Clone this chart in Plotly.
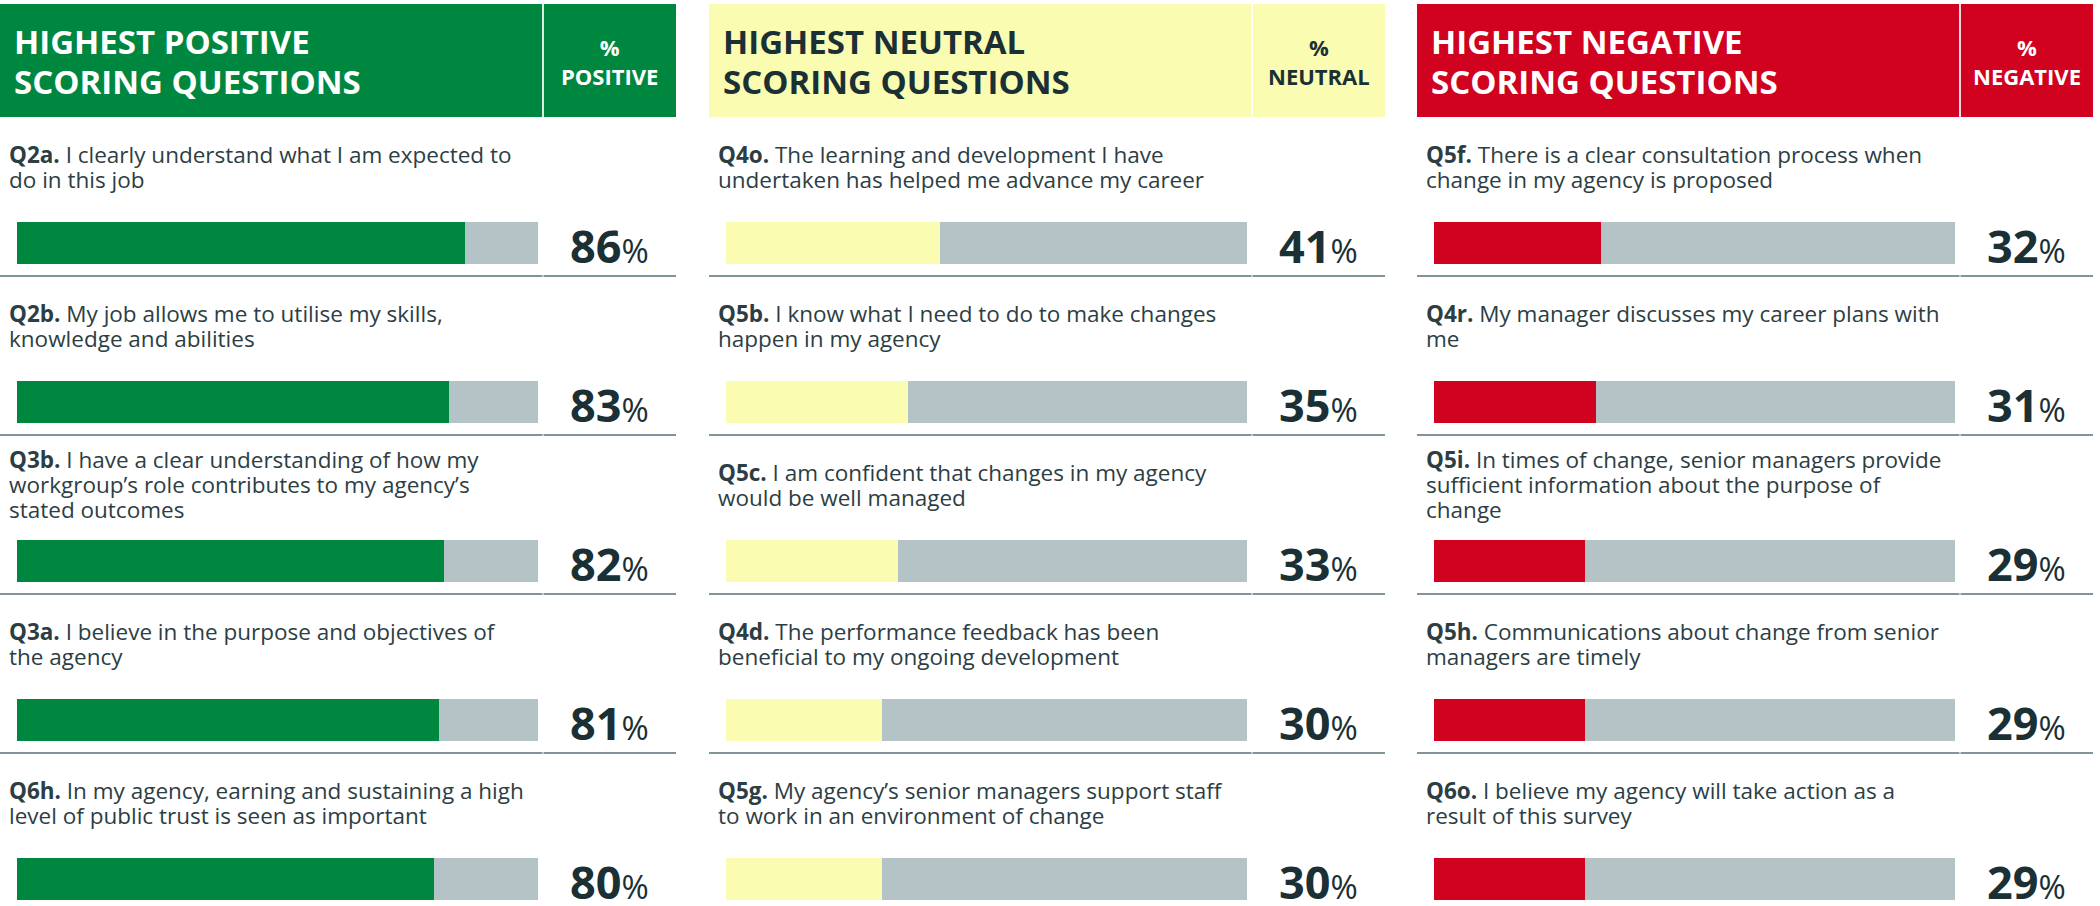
import plotly.graph_objects as go

# ---------------- data ----------------
panel_titles = [["HIGHEST POSITIVE", "SCORING QUESTIONS"],
                ["HIGHEST NEUTRAL", "SCORING QUESTIONS"],
                ["HIGHEST NEGATIVE", "SCORING QUESTIONS"]]
panel_measure = ["POSITIVE", "NEUTRAL", "NEGATIVE"]

pos_codes = ["Q2a.", "Q2b.", "Q3b.", "Q3a.", "Q6h."]
pos_lines = [["I clearly understand what I am expected to", "do in this job"],
             ["My job allows me to utilise my skills,", "knowledge and abilities"],
             ["I have a clear understanding of how my", "workgroup\u2019s role contributes to my agency\u2019s", "stated outcomes"],
             ["I believe in the purpose and objectives of", "the agency"],
             ["In my agency, earning and sustaining a high", "level of public trust is seen as important"]]
pos_values = [86, 83, 82, 81, 80]

neu_codes = ["Q4o.", "Q5b.", "Q5c.", "Q4d.", "Q5g."]
neu_lines = [["The learning and development I have", "undertaken has helped me advance my career"],
             ["I know what I need to do to make changes", "happen in my agency"],
             ["I am confident that changes in my agency", "would be well managed"],
             ["The performance feedback has been", "beneficial to my ongoing development"],
             ["My agency\u2019s senior managers support staff", "to work in an environment of change"]]
neu_values = [41, 35, 33, 30, 30]

neg_codes = ["Q5f.", "Q4r.", "Q5i.", "Q5h.", "Q6o."]
neg_lines = [["There is a clear consultation process when", "change in my agency is proposed"],
             ["My manager discusses my career plans with", "me"],
             ["In times of change, senior managers provide", "sufficient information about the purpose of", "change"],
             ["Communications about change from senior", "managers are timely"],
             ["I believe my agency will take action as a", "result of this survey"]]
neg_values = [32, 31, 29, 29, 29]

# ---------------- style / layout ----------------
W, H = 2100, 906
FONT = "Open Sans"
DARK = "#1B3035"
BODY = "#2C3E43"
GRAY_BAR = "#B3C3C6"
SEP = "#7F959A"
panel_colors = ["#00873F", "#FAFCB2", "#D0021F"]
header_text_colors = ["white", DARK, "white"]

PANEL_LEFT = [0, 709, 1417]
PANEL_W = 676
DIV_OFF = 543
BAR_OFF = 17
BAR_W = 521
TEXT_OFF = 7
HEADER_TOP, HEADER_BOT = 4, 117
ROW0, ROW_H = 117, 159
BAR_TOP_OFF, BAR_H = 105, 42

TITLE_FS = 33
MEAS_FS = 22
BODY_FS = 22.5
VAL_FS = 45
PCT_FS = 33

def px(x):
    return x / W

def py(y):
    return 1 - y / H

bar_center0 = ROW0 + BAR_TOP_OFF + BAR_H / 2
y_range = [(H - bar_center0) / ROW_H, (0 - bar_center0) / ROW_H]

panels = [(pos_codes, pos_lines, pos_values),
          (neu_codes, neu_lines, neu_values),
          (neg_codes, neg_lines, neg_values)]

fig = go.Figure()
shapes = []
annotations = []

for p, (codes, lines, values) in enumerate(panels):
    left = PANEL_LEFT[p]
    ax = "" if p == 0 else str(p + 1)
    rows = list(range(len(values)))
    fig.add_trace(go.Bar(
        x=values, y=rows, orientation="h", width=BAR_H / ROW_H,
        marker=dict(color=panel_colors[p], line=dict(width=0)),
        xaxis="x" + ax, yaxis="y" + ax, hoverinfo="skip", showlegend=False))
    fig.add_trace(go.Bar(
        x=[100 - v for v in values], y=rows, orientation="h", width=BAR_H / ROW_H,
        marker=dict(color=GRAY_BAR, line=dict(width=0)),
        xaxis="x" + ax, yaxis="y" + ax, hoverinfo="skip", showlegend=False))

    dom = [px(left + BAR_OFF), px(left + BAR_OFF + BAR_W)]
    fig.update_layout(**{
        "xaxis" + ax: dict(domain=dom, range=[0, 100], visible=False, fixedrange=True),
        "yaxis" + ax: dict(domain=[0, 1], range=y_range, visible=False, fixedrange=True,
                           anchor="x" + ax),
    })

    # header
    shapes.append(dict(type="rect", xref="paper", yref="paper",
                       x0=px(left), x1=px(left + PANEL_W), y0=py(HEADER_BOT), y1=py(HEADER_TOP),
                       fillcolor=panel_colors[p], line=dict(width=0), layer="below"))
    shapes.append(dict(type="line", xref="paper", yref="paper",
                       x0=px(left + DIV_OFF), x1=px(left + DIV_OFF), y0=py(HEADER_BOT), y1=py(HEADER_TOP),
                       line=dict(color="rgba(255,255,255,0.85)", width=2)))
    tc = header_text_colors[p]
    for k, t in enumerate(panel_titles[p]):
        base = 54 + 40 * k
        annotations.append(dict(xref="paper", yref="paper", x=px(left + 12), y=py(base - 0.388 * TITLE_FS),
                                xanchor="left", yanchor="middle", showarrow=False,
                                text="<b>" + t + "</b>", font=dict(family=FONT, size=TITLE_FS, color=tc)))
    col_c = left + (DIV_OFF + PANEL_W) / 2
    # "%" / measure as one two-line label
    annotations.append(dict(xref="paper", yref="paper", x=px(col_c), y=py(70 - 0.388 * MEAS_FS),
                            xanchor="center", yanchor="middle", showarrow=False,
                            text="<b>%</b><br><b>" + panel_measure[p] + "</b>",
                            font=dict(family=FONT, size=MEAS_FS, color=tc)))

    for i in rows:
        r = ROW0 + ROW_H * i
        nl = len(lines[i])
        first = r + 46 - (13 if nl == 3 else 0)
        for k, t in enumerate(lines[i]):
            base = first + 25 * k
            txt = ("<b>" + codes[i] + "</b> " + t) if k == 0 else t
            annotations.append(dict(xref="paper", yref="paper", x=px(left + TEXT_OFF),
                                    y=py(base - 0.388 * BODY_FS), xanchor="left", yanchor="middle",
                                    showarrow=False, text=txt,
                                    font=dict(family=FONT, size=BODY_FS, color=BODY)))
        # value label
        base = r + BAR_TOP_OFF + BAR_H - 1
        annotations.append(dict(xref="paper", yref="paper", x=px(col_c), y=py(base - 0.388 * VAL_FS),
                                xanchor="center", yanchor="middle", showarrow=False,
                                text="<b>%d</b><span style='font-size:%dpx;font-weight:400'>%%</span>"
                                     % (values[i], PCT_FS),
                                font=dict(family=FONT, size=VAL_FS, color=DARK)))
        if i < len(values) - 1:
            ys = r + ROW_H
            shapes.append(dict(type="line", xref="paper", yref="paper",
                               x0=px(left), x1=px(left + DIV_OFF - 0.5), y0=py(ys), y1=py(ys),
                               line=dict(color=SEP, width=2)))
            shapes.append(dict(type="line", xref="paper", yref="paper",
                               x0=px(left + DIV_OFF + 0.5), x1=px(left + PANEL_W), y0=py(ys), y1=py(ys),
                               line=dict(color=SEP, width=2)))

fig.update_layout(
    width=W, height=H, margin=dict(l=0, r=0, t=0, b=0),
    paper_bgcolor="white", plot_bgcolor="rgba(0,0,0,0)",
    barmode="stack", bargap=0,
    shapes=shapes, annotations=annotations,
    font=dict(family=FONT),
)
fig.write_html("out.html", config={"displayModeBar": False},
               post_script="document.body.style.margin='0';document.body.style.padding='0';"
                           "document.body.style.overflow='hidden';")
